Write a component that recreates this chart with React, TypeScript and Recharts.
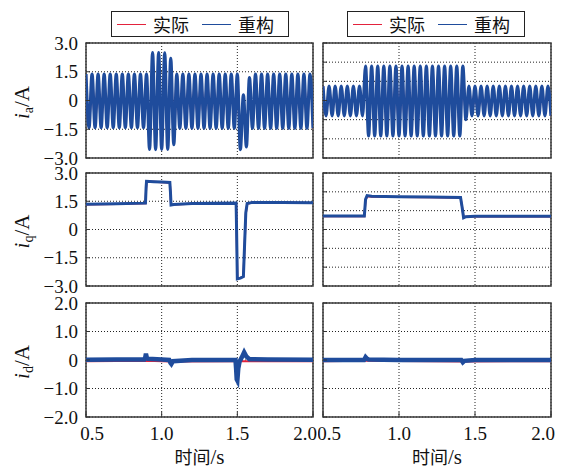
import { CartesianGrid, Line, LineChart, ReferenceArea, XAxis, YAxis } from "recharts";

const RED = "#e3223c";
const BLUE = "#1f4c9c";
const SERIF = '"Liberation Serif", "DejaVu Serif", serif';
const CJK = '"Noto Sans CJK SC", sans-serif';

const SERIES = [
  { key: "actual", name: "实际", color: RED },
  { key: "recon", name: "重构", color: BLUE },
];

const X_TICKS = [0.5, 1.0, 1.5, 2.0];
const Y_TICKS_LEFT_3 = [-3, -1.5, 0, 1.5, 3];
const Y_TICKS_RIGHT_3 = [-3, -2, -1, 0, 1, 2, 3];
const Y_TICKS_2 = [-2, -1, 0, 1, 2];

// ia: successive half-cycle peaks, one every STEP seconds from T0
const T0 = 0.5;
const STEP = 0.02;
const IA_LEFT = [
  1.38, -1.42, 1.38, -1.42, 1.38, -1.42, 1.38, -1.42, 1.38, -1.42,
  1.38, -1.42, 1.38, -1.42, 1.38, -1.42, 1.38, -1.42, 1.38, -1.42,
  1.38, -2.55, 2.5, -2.56, 2.5, -2.55, 2.48, -2.55, 2.2, -2.3,
  1.38, -1.45, 1.38, -1.45, 1.38, -1.45, 1.38, -1.45, 1.38, -1.45,
  1.38, -1.45, 1.38, -1.45, 1.38, -1.45, 1.38, -1.45, 1.38, -1.45,
  1.38, -2.56, 0.3, -2.42, 1.2,
  -1.45, 1.38, -1.45, 1.38, -1.45, 1.38, -1.45, 1.38, -1.45, 1.38,
  -1.45, 1.38, -1.45, 1.38, -1.45, 1.38, -1.45, 1.38, -1.45, 1.38, -1.45,
];
const IA_RIGHT = [
  0.75, -0.8, 0.75, -0.8, 0.75, -0.8, 0.75, -0.8, 0.75, -0.8, 0.75, -0.8, 0.75,
  -0.8,
  1.8, -1.85, 1.8, -1.85, 1.8, -1.85, 1.8, -1.85, 1.8, -1.85, 1.8,
  -1.85, 1.8, -1.85, 1.8, -1.85, 1.8, -1.85, 1.8, -1.85, 1.8, -1.85,
  1.8, -1.85, 1.8, -1.85, 1.8, -1.85, 1.8, -1.85, 1.8, -1.85, 1.8,
  -1.0,
  0.75, -0.8, 0.75, -0.8, 0.75, -0.8, 0.75, -0.8, 0.75, -0.8, 0.75, -0.8, 0.75, -0.8,
  0.75, -0.8, 0.75, -0.8, 0.75, -0.8, 0.75, -0.8, 0.75, -0.8, 0.75, -0.8, 0.75, -0.8,
];

// iq
const IQ_LEFT_T = [0.5, 0.7, 0.893, 0.897, 0.9, 0.95, 1.0, 1.054, 1.058, 1.062, 1.08, 1.2, 1.492, 1.495, 1.5, 1.52, 1.54, 1.548, 1.556, 1.565, 1.6, 1.8, 2.0];
const IQ_LEFT_RECON = [1.34, 1.37, 1.4, 2.2, 2.56, 2.54, 2.52, 2.5, 2.0, 1.3, 1.33, 1.38, 1.4, 0.0, -2.62, -2.58, -2.5, -0.8, 0.9, 1.38, 1.44, 1.43, 1.42];
const IQ_LEFT_ACTUAL = [1.33, 1.36, 1.39, 2.1, 2.54, 2.53, 2.51, 2.49, 2.0, 1.31, 1.33, 1.37, 1.39, 0.1, -2.6, -2.57, -2.5, -0.9, 0.8, 1.37, 1.43, 1.42, 1.41];
const IQ_RIGHT_T = [0.5, 0.76, 0.772, 0.78, 0.79, 0.82, 1.0, 1.2, 1.405, 1.415, 1.425, 1.44, 1.5, 2.0];
const IQ_RIGHT_RECON = [0.72, 0.72, 0.72, 1.6, 1.8, 1.76, 1.74, 1.72, 1.7, 1.2, 0.62, 0.68, 0.7, 0.7];
const IQ_RIGHT_ACTUAL = [0.71, 0.71, 0.71, 1.55, 1.76, 1.74, 1.73, 1.71, 1.69, 1.2, 0.64, 0.68, 0.69, 0.69];

// id
const ID_LEFT_T = [0.5, 0.7, 0.885, 0.892, 0.896, 0.902, 0.91, 1.0, 1.05, 1.058, 1.064, 1.075, 1.2, 1.488, 1.492, 1.496, 1.5, 1.506, 1.515, 1.53, 1.545, 1.56, 1.58, 1.7, 2.0];
const ID_LEFT_RECON = [0.01, 0.02, 0.02, 0.1, 0.22, 0.08, 0.04, 0.02, 0.0, -0.1, -0.14, -0.04, 0.0, 0.0, -0.3, -0.68, -0.72, -0.3, -0.05, 0.1, 0.27, 0.12, 0.03, 0.02, 0.01];
const ID_LEFT_ACT_T = [0.5, 0.9, 1.06, 1.5, 2.0];
const ID_LEFT_ACTUAL = [-0.04, -0.03, -0.05, -0.04, -0.04];
const ID_RIGHT_T = [0.5, 0.77, 0.78, 0.79, 0.8, 1.0, 1.41, 1.42, 1.43, 1.5, 2.0];
const ID_RIGHT_RECON = [0.0, 0.0, 0.1, 0.04, 0.02, 0.0, 0.0, -0.08, -0.03, 0.0, 0.0];
const ID_RIGHT_ACT_T = [0.5, 0.78, 1.42, 2.0];
const ID_RIGHT_ACTUAL = [-0.04, -0.03, -0.05, -0.04];

type Pt = { t: number; v: number };
const peaks = (vals: number[]): Pt[] => vals.map((v, k) => ({ t: +(T0 + k * STEP).toFixed(3), v }));
const pairs = (ts: number[], vs: number[]): Pt[] => ts.map((t, i) => ({ t, v: vs[i] }));

const fmtY = (v: number) => (v === 0 ? "0" : (v < 0 ? "\u2212" : "") + Math.abs(v).toFixed(1));

type LineSpec = { data: Pt[]; color: string; width: number; curve: "monotone" | "linear" };

interface CellProps {
  left: number;
  top: number;
  width: number;
  plotH: number;
  yAxisW: number;
  domain: [number, number];
  yTicks: number[];
  lines: LineSpec[];
  showYLabels: boolean;
  showX: boolean;
  sub?: string;
}

const XTick = (props: any) => {
  const { x, y, payload, index } = props;
  const dx = index === 0 ? 6 : index === X_TICKS.length - 1 ? -8 : 0;
  return (
    <text x={x + dx} y={y} dy="0.71em" textAnchor="middle" style={{ fontFamily: SERIF, fontSize: 19 }} fill="#111">
      {payload.value.toFixed(1)}
    </text>
  );
};
const NoTick = () => <g />;

function Cell({ left, top, width, plotH, yAxisW, domain, yTicks, lines, showYLabels, showX, sub }: CellProps) {
  const mt = 15;
  const xh = showX ? 60 : 0;
  const mb = showX ? 0 : 12;
  const height = mt + plotH + xh + mb;
  return (
    <div style={{ position: "absolute", left, top: top - mt, fontFamily: SERIF }}>
      <LineChart width={width} height={height} margin={{ top: mt, right: 7, bottom: mb, left: 0 }}>
        <CartesianGrid stroke="#222" strokeDasharray="1 2" />
        <XAxis
          type="number"
          dataKey="t"
          domain={[0.5, 2]}
          ticks={X_TICKS}
          allowDataOverflow
          height={xh}
          axisLine={false}
          tickLine={{ stroke: "#333" }}
          tickSize={-5}
          tickMargin={15}
          interval={0}
          tick={showX ? XTick : NoTick}
          label={
            showX
              ? {
                  content: (p: any) => {
                    const vb = p.viewBox;
                    return (
                      <text x={vb.x + vb.width / 2} y={vb.y + 47} textAnchor="middle" fill="#111">
                        <tspan style={{ fontFamily: CJK, fontSize: 18 }}>时间</tspan>
                        <tspan style={{ fontFamily: SERIF, fontSize: 21 }}>/s</tspan>
                      </text>
                    );
                  },
                }
              : undefined
          }
        />
        <YAxis
          type="number"
          domain={domain}
          ticks={yTicks}
          allowDataOverflow
          width={yAxisW}
          axisLine={false}
          tickLine={{ stroke: "#333" }}
          tickSize={-4}
          tickMargin={12}
          interval={0}
          tickFormatter={fmtY}
          tick={showYLabels ? { fontSize: 19, fill: "#111", style: { fontFamily: SERIF } } : NoTick}
          label={
            sub
              ? {
                  content: (p: any) => {
                    const vb = p.viewBox;
                    const cy = vb.y + vb.height / 2 + 2;
                    return (
                      <text transform={`translate(29, ${cy}) rotate(-90)`} textAnchor="middle" style={{ fontFamily: SERIF, fontSize: 21 }} fill="#111">
                        <tspan fontStyle="italic">i</tspan>
                        <tspan fontSize={14} dy={4}>{sub}</tspan>
                        <tspan dy={-4}>/A</tspan>
                      </text>
                    );
                  },
                }
              : undefined
          }
        />
        {lines.map((l, i) => (
          <Line
            key={i}
            data={l.data}
            dataKey="v"
            type={l.curve}
            stroke={l.color}
            strokeWidth={l.width}
            dot={false}
            activeDot={false}
            isAnimationActive={false}
          />
        ))}
        <ReferenceArea x1={0.5} x2={2} y1={domain[0]} y2={domain[1]} fill="none" stroke="#3a3a3a" strokeWidth={1.5} />
      </LineChart>
    </div>
  );
}

function LegendBox({ left }: { left: number }) {
  return (
    <div
      style={{
        position: "absolute",
        left,
        top: 11,
        width: 176,
        height: 24,
        border: "1.5px solid #222",
        background: "#fff",
        fontFamily: CJK,
        fontSize: 18,
        color: "#111",
      }}
    >
      {SERIES.map((s, i) => (
        <div
          key={s.key}
          style={{ position: "absolute", left: 5 + i * 85, top: 0, height: 24, lineHeight: "24px", display: "flex", alignItems: "center" }}
        >
          <span style={{ display: "inline-block", width: 29, height: 0, borderTop: `1.5px solid ${s.color}`, marginRight: 7 }} />
          <span>{s.name}</span>
        </div>
      ))}
    </div>
  );
}

export default function App() {
  const iaL = peaks(IA_LEFT);
  const iaR = peaks(IA_RIGHT);
  const rows = [
    { top: 43, h: 115, sub: "a", domL: [-3, 3] as [number, number], domR: [-3, 3] as [number, number], tL: Y_TICKS_LEFT_3, tR: Y_TICKS_RIGHT_3,
      linesL: [
        { data: iaL, color: RED, width: 2, curve: "monotone" as const },
        { data: iaL, color: BLUE, width: 3.2, curve: "monotone" as const },
      ],
      linesR: [
        { data: iaR, color: RED, width: 2, curve: "monotone" as const },
        { data: iaR, color: BLUE, width: 3.2, curve: "monotone" as const },
      ] },
    { top: 173, h: 113, sub: "q", domL: [-3, 3] as [number, number], domR: [-3, 3] as [number, number], tL: Y_TICKS_LEFT_3, tR: Y_TICKS_RIGHT_3,
      linesL: [
        { data: pairs(IQ_LEFT_T, IQ_LEFT_ACTUAL), color: RED, width: 2, curve: "linear" as const },
        { data: pairs(IQ_LEFT_T, IQ_LEFT_RECON), color: BLUE, width: 3, curve: "linear" as const },
      ],
      linesR: [
        { data: pairs(IQ_RIGHT_T, IQ_RIGHT_ACTUAL), color: RED, width: 2, curve: "linear" as const },
        { data: pairs(IQ_RIGHT_T, IQ_RIGHT_RECON), color: BLUE, width: 3, curve: "linear" as const },
      ] },
    { top: 303, h: 114, sub: "d", domL: [-2, 2] as [number, number], domR: [-2, 2] as [number, number], tL: Y_TICKS_2, tR: Y_TICKS_2,
      linesL: [
        { data: pairs(ID_LEFT_ACT_T, ID_LEFT_ACTUAL), color: RED, width: 2, curve: "linear" as const },
        { data: pairs(ID_LEFT_T, ID_LEFT_RECON), color: BLUE, width: 4.5, curve: "linear" as const },
      ],
      linesR: [
        { data: pairs(ID_RIGHT_ACT_T, ID_RIGHT_ACTUAL), color: RED, width: 2, curve: "linear" as const },
        { data: pairs(ID_RIGHT_T, ID_RIGHT_RECON), color: BLUE, width: 4.5, curve: "linear" as const },
      ] },
  ];
  return (
    <div style={{ position: "absolute", left: 0, top: 0, width: 565, height: 468, background: "#fff", overflow: "hidden" }}>
      {rows.map((r, i) => (
        <div key={i}>
          <Cell left={0} top={r.top} width={320} plotH={r.h} yAxisW={86} domain={r.domL} yTicks={r.tL} lines={r.linesL} showYLabels showX={i === 2} sub={r.sub} />
          <Cell left={318} top={r.top} width={240} plotH={r.h} yAxisW={5} domain={r.domR} yTicks={r.tR} lines={r.linesR} showYLabels={false} showX={i === 2} />
        </div>
      ))}
      <LegendBox left={111} />
      <LegendBox left={347} />
    </div>
  );
}
